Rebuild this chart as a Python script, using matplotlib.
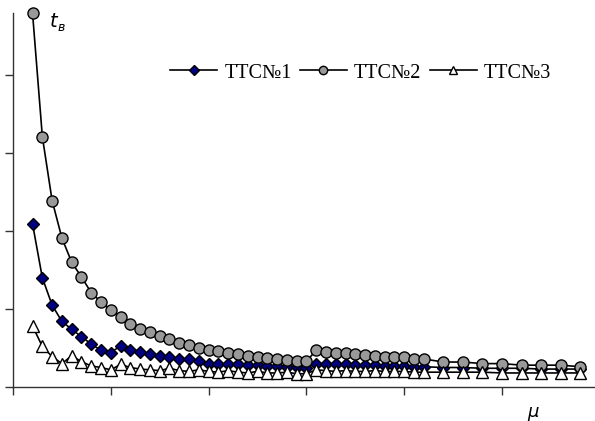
import matplotlib
matplotlib.use('Agg')
import matplotlib.pyplot as plt

# mu values (x axis)
mu = list(range(2, 43)) + [44, 46, 48, 50, 52, 54, 56, 58]

# TTC No1 (diamonds)
ttc1 = [2.09, 1.40, 1.05, 0.84, 0.74, 0.645, 0.55, 0.47, 0.44, 0.53,
        0.47, 0.445, 0.42, 0.40, 0.38, 0.355, 0.355, 0.33, 0.30, 0.30,
        0.29, 0.29, 0.28, 0.28, 0.27, 0.27, 0.26, 0.26, 0.25, 0.30,
        0.30, 0.29, 0.29, 0.28, 0.28, 0.28, 0.27, 0.27, 0.27, 0.26,
        0.26,
        0.25, 0.25, 0.24, 0.24, 0.24, 0.23, 0.23, 0.23]

# TTC No2 (circles)
ttc2 = [4.79, 3.21, 2.39, 1.91, 1.60, 1.41, 1.21, 1.09, 0.99, 0.90,
        0.81, 0.74, 0.70, 0.65, 0.61, 0.57, 0.54, 0.50, 0.48, 0.46,
        0.43, 0.42, 0.40, 0.38, 0.37, 0.36, 0.35, 0.33, 0.33, 0.47,
        0.45, 0.43, 0.43, 0.42, 0.41, 0.40, 0.38, 0.38, 0.38, 0.36,
        0.36,
        0.32, 0.32, 0.30, 0.30, 0.28, 0.28, 0.28, 0.26]

# TTC No3 (triangles)
ttc3 = [0.78, 0.52, 0.39, 0.30, 0.40, 0.325, 0.27, 0.25, 0.22, 0.29,
        0.25, 0.23, 0.22, 0.21, 0.24, 0.21, 0.20, 0.22, 0.20, 0.19,
        0.21, 0.19, 0.18, 0.20, 0.18, 0.18, 0.19, 0.17, 0.17, 0.22,
        0.21, 0.20, 0.21, 0.20, 0.20, 0.21, 0.20, 0.20, 0.20, 0.19,
        0.19,
        0.19, 0.19, 0.19, 0.18, 0.18, 0.18, 0.18, 0.18]

labels = ['ТТС№1', 'ТТС№2', 'ТТС№3']

W, H = 595, 421
fig = plt.figure(figsize=(W / 100, H / 100), dpi=100)
ax = fig.add_axes([13 / W, 34 / H, (W - 13) / W, 374 / H])

ax.plot(mu, ttc1, '-', color='black', lw=1.2, marker='D', ms=6.5,
        mfc='#000080', mec='black', mew=1, label=labels[0], clip_on=False)
ax.plot(mu, ttc2, '-', color='black', lw=1.2, marker='o', ms=8,
        mfc='#999999', mec='black', mew=1, label=labels[1], clip_on=False)
ax.plot(mu, ttc3, '-', color='black', lw=1.2, marker='^', ms=8.5,
        mfc='white', mec='black', mew=1, label=labels[2], clip_on=False)

ax.set_xlim(0, (W - 13) / 9.78)
ax.set_ylim(0, 374 / 78)
ax.set_xticks([0, 10, 20, 30, 40, 50])
ax.set_yticks([0, 1, 2, 3, 4])
ax.tick_params(direction='out', length=6, width=1, color='#333333',
               labelbottom=False, labelleft=False)
for s in ['top', 'right']:
    ax.spines[s].set_visible(False)
for s in ['left', 'bottom']:
    ax.spines[s].set_color('#333333')
    ax.spines[s].set_linewidth(1)

# axis labels
fig.text(50 / W, 1 - 27 / H, 't', fontsize=14, style='italic',
         family='DejaVu Sans', va='baseline')
fig.text(58 / W, 1 - 31 / H, 'в', fontsize=9, style='italic',
         family='DejaVu Sans', va='baseline')
fig.text(533 / W, 1 - 412 / H, 'μ', fontsize=13, style='italic',
         family='DejaVu Sans', ha='center', va='center')

leg = ax.legend(loc='center left', bbox_to_anchor=(170 / W, 1 - 73 / H),
                bbox_transform=fig.transFigure, ncol=3, frameon=False,
                prop={'family': 'Liberation Serif', 'size': 14.5},
                handlelength=2.35, handletextpad=0.35, columnspacing=0.4,
                borderpad=0, borderaxespad=0, markerscale=0.75)

fig.savefig('out.png', dpi=100)
